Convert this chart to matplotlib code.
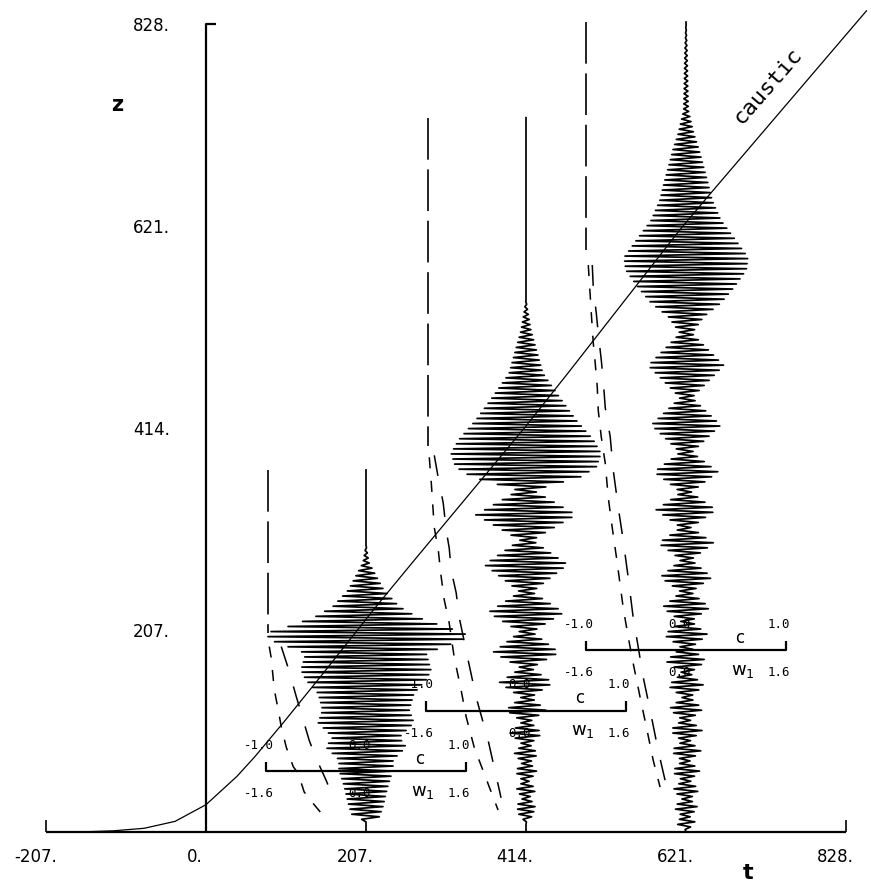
import numpy as np
import matplotlib.pyplot as plt

plt.rcParams['lines.scale_dashes'] = False

# axis labels
t_ticks = [-207, 0, 207, 414, 621, 828]
t_labels = ['-207.', '0.', '207.', '414.', '621.', '828.']
z_ticks = [207, 414, 621, 828]
z_labels = ['207.', '414.', '621.', '828.']

# caustic curve (t, z)
caustic_t = [-165, -120, -80, -40, 0, 40, 63, 100, 150, 219, 270, 413, 471, 613, 648, 855]
caustic_z = [0, 1.2, 3.8, 10.9, 28, 57, 77, 112, 161, 230, 279, 415, 473, 617, 650, 842]

# wave packets: centre t, top of line, envelope knots (z, half width in t)
packet_t = [207, 414, 621]
packet_top = [371, 732, 830]

p1_z = [0, 12, 15, 26, 46, 64, 74, 87, 97, 112, 125, 142, 156, 166, 183, 197, 204, 210, 220, 231, 248, 276, 294]
p1_w = [0, 0, 17, 22, 28, 35, 35, 52, 43, 62, 56, 62, 78, 84, 78, 125, 129, 103, 67, 43, 23, 4, 0]

p2_z = [0, 10, 17, 27, 35, 43, 52, 62, 71, 80, 90, 101, 113, 125, 138, 153, 168, 184, 205, 225,
        246, 274, 299, 325, 350, 364, 374, 388, 402, 422, 446, 470, 514, 545]
p2_w = [0, 0, 9, 12, 4, 13, 4, 14, 5, 15.5, 5, 21, 5, 26, 6.5, 35, 6.5, 43, 8, 49,
        8, 54, 8, 65, 10, 71, 91, 97, 87, 65, 43, 22, 6.5, 0]

p3_z = [0, 2, 9, 16, 25, 34, 43, 53, 62, 73, 83, 93, 104, 115, 126, 138, 150, 163, 175, 189, 202,
        216, 230, 246, 261, 279, 296, 312, 330, 348, 369, 389, 417, 445, 478, 511, 528, 542, 558,
        576, 589, 610, 627, 647, 665, 681, 699, 716, 740, 800, 830]
p3_w = [0, 0, 13, 5, 15.5, 5, 17, 5, 18, 5, 19.4, 5, 20.7, 5, 22, 5, 23.3, 5, 26, 6.5, 28.5,
        6.5, 31, 6.5, 33.6, 6.5, 36, 6.5, 39, 6.5, 41.4, 7.8, 45, 7.8, 49, 7.8, 23, 45, 62,
        78, 80, 61, 45, 34, 28.5, 23, 17, 10, 3, 1.5, 0]

packet_env = [(p1_z, p1_w), (p2_z, p2_w), (p3_z, p3_w)]

# c / w1 inset curves (value on the c scale -1..1, z)
vert_c = [-0.98, -0.98, -1.0]
vert_z = [(204, 371), (396, 732), (596, 830)]
left_c = [[-0.97, -0.95, -0.92, -0.88, -0.85, -0.80, -0.73, -0.68, -0.62, -0.52, -0.45],
          [-0.97, -0.95, -0.92, -0.88, -0.85, -0.82, -0.77, -0.72, -0.65, -0.60, -0.52, -0.42, -0.28],
          [-0.98, -0.97, -0.95, -0.93, -0.91, -0.89, -0.88, -0.85, -0.81, -0.78, -0.74, -0.69,
           -0.63, -0.58, -0.53, -0.46, -0.39, -0.33, -0.26]]
left_z = [[190, 178, 146, 125, 108, 87, 67, 60, 41, 28, 19.5],
          [384, 358, 312, 289, 261, 238, 214, 179, 145, 118, 87, 60, 22.5],
          [581, 565, 532, 501, 480, 456, 432, 405, 378, 343, 312, 276, 230, 200, 173, 138, 104, 74, 46]]
right_c = [[-0.85, -0.78, -0.70, -0.65, -0.57, -0.50, -0.40, -0.32],
           [-0.92, -0.88, -0.83, -0.80, -0.77, -0.75, -0.70, -0.67, -0.58, -0.50, -0.38, -0.25],
           [-0.94, -0.93, -0.90, -0.88, -0.85, -0.83, -0.81, -0.76, -0.73, -0.68, -0.63, -0.58,
            -0.53, -0.48, -0.43, -0.36, -0.28, -0.21]]
right_z = [[190, 168, 139, 122, 94, 75.5, 53, 33],
           [386, 363, 337, 309, 291, 268, 245, 220, 176, 138, 94, 35],
           [581, 558, 532, 511, 484, 463, 435, 405, 371, 333, 299, 261, 220, 190, 159, 125, 84, 53]]

inset_z = [62, 124, 186]
inset_half = 129

fig = plt.figure(figsize=(8.71, 8.85), dpi=100)
ax = fig.add_axes([46 / 871, 1 - 832 / 885, 800 / 871, 808 / 885])
ax.set_xlim(-207, 828)
ax.set_ylim(0, 828)
ax.axis('off')

k = dict(color='k', clip_on=False, solid_capstyle='butt')

# axes lines
ax.plot([-207, 828], [0, 0], lw=1.6, **k)
ax.plot([-207, -207], [0, 12], lw=1.2, **k)
ax.plot([828, 828], [0, 12], lw=1.2, **k)
ax.plot([0, 0, 13], [0, 828, 828], lw=1.6, **k)

for t, lab in zip(t_ticks, t_labels):
    ax.text(t - 14, -26, lab, ha='center', va='center', fontsize=12, clip_on=False)
for z, lab in zip(z_ticks, z_labels):
    ax.text(-47, z - 2, lab, ha='right', va='center', fontsize=12, clip_on=False)
ax.text(-115, 745, 'z', fontsize=15, fontweight='bold', ha='center', va='center')
ax.text(701, -42, 't', fontsize=16, fontweight='bold', ha='center', va='center', clip_on=False)

# caustic
ax.plot(caustic_t, caustic_z, lw=0.9, **k)
ax.text(727, 765, 'caustic', rotation=49, fontsize=16, family='DejaVu Sans Mono',
        ha='center', va='center')

# wave packets
dz = 2.6
for t0, top, (ez, ew) in zip(packet_t, packet_top, packet_env):
    zs = np.arange(0, ez[-1], dz)
    amp = np.interp(zs, ez, ew)
    sign = np.where(np.arange(len(zs)) % 2 == 0, 1, -1)
    xs = t0 + sign * amp
    xs = np.append(xs, [t0, t0])
    zs = np.append(zs, [ez[-1], top])
    ax.plot(xs, zs, lw=1.25, color='k', clip_on=False)

# inset curves and brackets
for i, t0 in enumerate(packet_t):
    xl = t0 - inset_half
    xr = t0 + inset_half
    zb = inset_z[i]
    vz0, vz1 = vert_z[i]
    ax.plot([t0 + inset_half * vert_c[i]] * 2, [vz1, vz0], lw=1.2, color='k',
            dashes=(30, 7), clip_on=False)
    ax.plot(t0 + inset_half * np.array(left_c[i]), left_z[i], lw=1.1, color='k',
            dashes=(8, 9), clip_on=False)
    ax.plot(t0 + inset_half * np.array(right_c[i]), right_z[i], lw=1.1, color='k',
            dashes=(15, 15), clip_on=False)

    ax.plot([xl, xl, xr, xr], [zb + 10, zb, zb, zb + 10], lw=1.6, **k)
    fs = dict(fontsize=9, family='DejaVu Sans Mono', ha='center', va='center')
    ax.text(xl - 10, zb + 27, '-1.0', **fs)
    ax.text(xr - 9, zb + 27, '1.0', **fs)
    ax.text(t0 - 8, zb + 27, '0.0', **fs)
    ax.text(xl - 10, zb - 23, '-1.6', **fs)
    ax.text(xr - 9, zb - 23, '1.6', **fs)
    ax.text(t0 - 8, zb - 23, '0.0', **fs)
    ax.text(t0 + 70, zb + 13, 'c', fontsize=12, ha='center', va='center')
    ax.text(t0 + 74, zb - 21, r'$\mathregular{w_1}$', fontsize=13, ha='center', va='center')

fig.savefig('out.png', dpi=100)
